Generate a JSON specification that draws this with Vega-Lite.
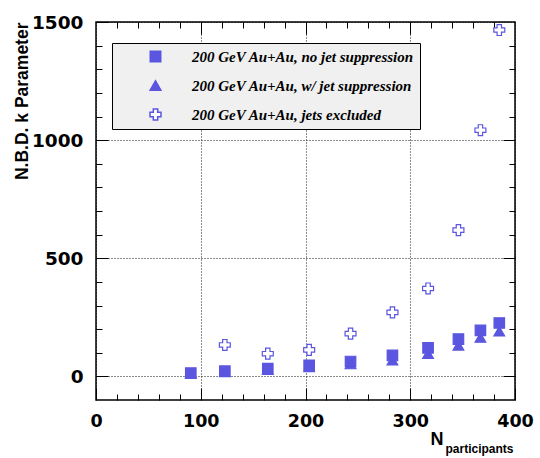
{
  "$schema": "https://vega.github.io/schema/vega-lite/v6.json",
  "width": 419,
  "height": 378,
  "autosize": "none",
  "padding": {"left": 96, "top": 22, "right": 25, "bottom": 58},
  "background": "white",
  "data": {
    "values": [
      {"n": 90.5, "k": 11, "series": "200 GeV Au+Au, w/ jet suppression"},
      {"n": 123, "k": 18, "series": "200 GeV Au+Au, w/ jet suppression"},
      {"n": 164, "k": 28, "series": "200 GeV Au+Au, w/ jet suppression"},
      {"n": 203.5, "k": 40, "series": "200 GeV Au+Au, w/ jet suppression"},
      {"n": 243, "k": 52, "series": "200 GeV Au+Au, w/ jet suppression"},
      {"n": 283, "k": 68, "series": "200 GeV Au+Au, w/ jet suppression"},
      {"n": 317, "k": 96, "series": "200 GeV Au+Au, w/ jet suppression"},
      {"n": 346, "k": 131, "series": "200 GeV Au+Au, w/ jet suppression"},
      {"n": 367, "k": 164, "series": "200 GeV Au+Au, w/ jet suppression"},
      {"n": 385, "k": 191, "series": "200 GeV Au+Au, w/ jet suppression"},
      {"n": 90.5, "k": 14, "series": "200 GeV Au+Au, no jet suppression"},
      {"n": 123, "k": 22, "series": "200 GeV Au+Au, no jet suppression"},
      {"n": 164, "k": 33, "series": "200 GeV Au+Au, no jet suppression"},
      {"n": 203.5, "k": 47, "series": "200 GeV Au+Au, no jet suppression"},
      {"n": 243, "k": 63, "series": "200 GeV Au+Au, no jet suppression"},
      {"n": 283, "k": 89, "series": "200 GeV Au+Au, no jet suppression"},
      {"n": 317, "k": 121, "series": "200 GeV Au+Au, no jet suppression"},
      {"n": 346, "k": 158, "series": "200 GeV Au+Au, no jet suppression"},
      {"n": 367, "k": 195, "series": "200 GeV Au+Au, no jet suppression"},
      {"n": 385, "k": 226, "series": "200 GeV Au+Au, no jet suppression"},
      {"n": 123, "k": 133, "series": "200 GeV Au+Au, jets excluded"},
      {"n": 164, "k": 96, "series": "200 GeV Au+Au, jets excluded"},
      {"n": 203.5, "k": 112, "series": "200 GeV Au+Au, jets excluded"},
      {"n": 243, "k": 181, "series": "200 GeV Au+Au, jets excluded"},
      {"n": 283, "k": 271, "series": "200 GeV Au+Au, jets excluded"},
      {"n": 317, "k": 372, "series": "200 GeV Au+Au, jets excluded"},
      {"n": 346, "k": 619, "series": "200 GeV Au+Au, jets excluded"},
      {"n": 367, "k": 1042, "series": "200 GeV Au+Au, jets excluded"},
      {"n": 385, "k": 1466, "series": "200 GeV Au+Au, jets excluded"}
    ]
  },
  "layer": [
    {
      "mark": {"type": "point", "filled": true, "stroke": "#5b56e0", "strokeWidth": 1.2, "opacity": 1},
      "encoding": {
        "x": {
          "field": "n", "type": "quantitative",
          "scale": {"domain": [0, 400], "nice": false, "zero": false},
          "axis": {
            "orient": "bottom", "values": [0, 100, 200, 300, 400], "offset": -12, "tickSize": 12,
            "grid": true, "gridDash": [1, 2], "gridColor": "black", "gridOpacity": 0.9,
            "labelFont": "DejaVu Sans", "labelFontWeight": "bold", "labelFontSize": 17.5,
            "labelPadding": 12, "labelFlush": false, "format": "d",
            "title": "N", "titleFont": "Liberation Sans", "titleFontWeight": "bold", "titleFontSize": 18,
            "titleX": 334, "titleY": 56, "titleAlign": "left", "titleBaseline": "alphabetic"
          }
        },
        "y": {
          "field": "k", "type": "quantitative",
          "scale": {"domain": [-100, 1500], "nice": false, "zero": false},
          "axis": {
            "orient": "left", "values": [0, 500, 1000, 1500], "offset": -12, "tickSize": 12,
            "grid": true, "gridDash": [1, 2], "gridColor": "black", "gridOpacity": 0.9,
            "labelFont": "DejaVu Sans", "labelFontWeight": "bold", "labelFontSize": 18.5,
            "labelPadding": 13, "labelFlush": false, "format": "d",
            "title": "N.B.D. k Parameter", "titleFont": "Liberation Sans", "titleFontWeight": "bold", "titleFontSize": 17.5,
            "titleX": -81, "titleY": 0, "titleAlign": "right", "titleBaseline": "alphabetic", "titleAngle": 270
          }
        },
        "shape": {
          "field": "series", "type": "nominal",
          "scale": {
            "domain": ["200 GeV Au+Au, no jet suppression", "200 GeV Au+Au, w/ jet suppression", "200 GeV Au+Au, jets excluded"],
            "range": ["square", "triangle-up", "cross"]
          },
          "legend": {
            "title": null, "orient": "none", "legendX": 16, "legendY": 21,
            "fillColor": "#f0f0f0", "strokeColor": "black",
            "padding": 6, "symbolOffset": 30, "labelOffset": 29, "rowPadding": 12,
            "labelFont": "Liberation Serif", "labelFontStyle": "italic", "labelFontWeight": "bold",
            "labelFontSize": 15, "labelColor": "black", "labelLimit": 400,
            "labelExpr": "datum.label + '\u00a0\u00a0\u00a0\u00a0\u00a0\u00a0\u00a0\u00a0\u00a0'"
          }
        },
        "fill": {
          "field": "series", "type": "nominal",
          "scale": {
            "domain": ["200 GeV Au+Au, no jet suppression", "200 GeV Au+Au, w/ jet suppression", "200 GeV Au+Au, jets excluded"],
            "range": ["#5b56e0", "#5b56e0", "white"]
          },
          "legend": {"title": null}
        },
        "size": {
          "field": "series", "type": "nominal",
          "scale": {
            "domain": ["200 GeV Au+Au, no jet suppression", "200 GeV Au+Au, w/ jet suppression", "200 GeV Au+Au, jets excluded"],
            "range": [110, 120, 165]
          },
          "legend": {"title": null}
        }
      }
    },
    {
      "mark": {"type": "point", "opacity": 0},
      "encoding": {
        "x": {
          "field": "n", "type": "quantitative",
          "axis": {
            "orient": "bottom", "values": [20, 40, 60, 80, 120, 140, 160, 180, 220, 240, 260, 280, 320, 340, 360, 380],
            "offset": -6, "tickSize": 6, "labels": false, "grid": false,
            "title": "participants", "titleFont": "Liberation Sans", "titleFontWeight": "bold", "titleFontSize": 12,
            "titleX": 349, "titleY": 58, "titleAlign": "left", "titleBaseline": "alphabetic"
          }
        },
        "y": {
          "field": "k", "type": "quantitative",
          "axis": {
            "orient": "left", "values": [100, 200, 300, 400, 600, 700, 800, 900, 1100, 1200, 1300, 1400],
            "offset": -6, "tickSize": 6, "labels": false, "grid": false, "title": null
          }
        }
      }
    },
    {
      "mark": {"type": "point", "opacity": 0},
      "encoding": {
        "x": {
          "field": "n", "type": "quantitative",
          "axis": {"orient": "top", "values": [100, 200, 300], "offset": -12, "tickSize": 12, "labels": false, "grid": false, "title": null}
        },
        "y": {
          "field": "k", "type": "quantitative",
          "axis": {"orient": "right", "values": [0, 500, 1000], "offset": -12, "tickSize": 12, "labels": false, "grid": false, "title": null}
        }
      }
    },
    {
      "mark": {"type": "point", "opacity": 0},
      "encoding": {
        "x": {
          "field": "n", "type": "quantitative",
          "axis": {
            "orient": "top", "values": [20, 40, 60, 80, 120, 140, 160, 180, 220, 240, 260, 280, 320, 340, 360, 380],
            "offset": -6, "tickSize": 6, "labels": false, "grid": false, "title": null
          }
        },
        "y": {
          "field": "k", "type": "quantitative",
          "axis": {
            "orient": "right", "values": [100, 200, 300, 400, 600, 700, 800, 900, 1100, 1200, 1300, 1400],
            "offset": -6, "tickSize": 6, "labels": false, "grid": false, "title": null
          }
        }
      }
    }
  ],
  "resolve": {"axis": {"x": "independent", "y": "independent"}},
  "config": {
    "view": {"stroke": "black", "strokeWidth": 1.5},
    "axis": {"domain": false, "tickColor": "black", "tickWidth": 1, "labelColor": "black", "titleColor": "black"}
  }
}
